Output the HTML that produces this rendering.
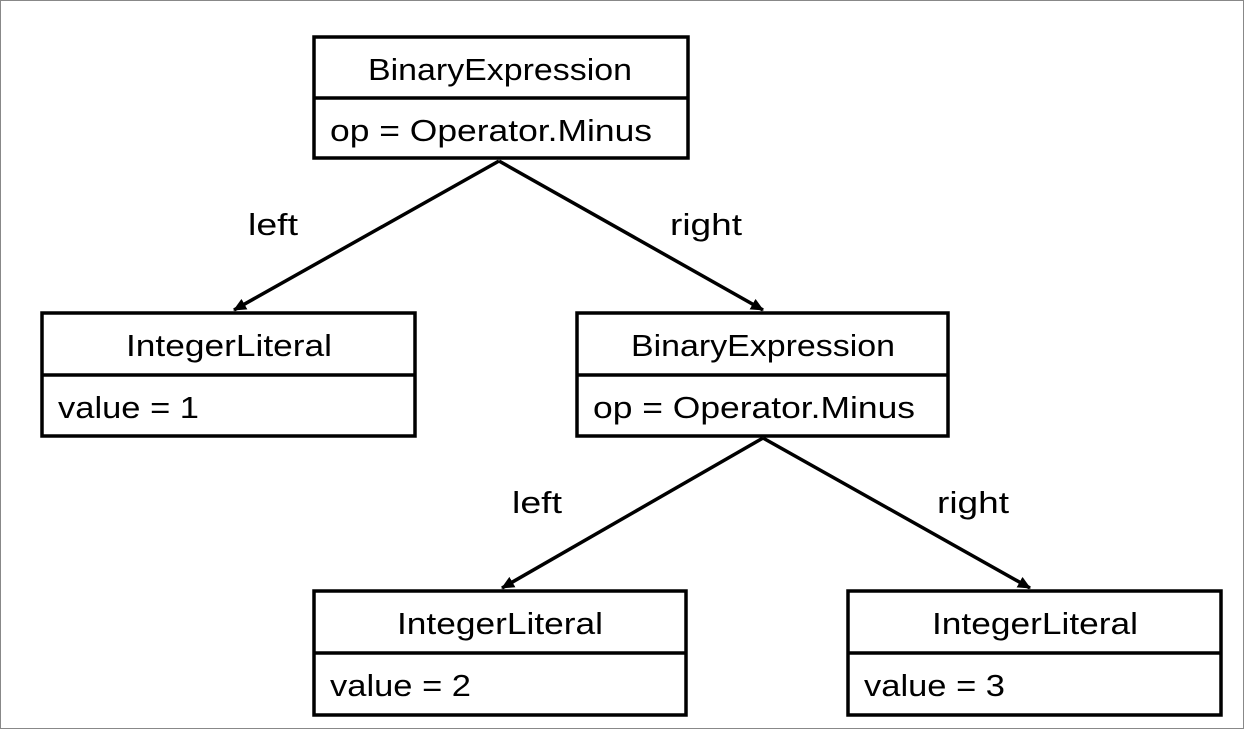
<!DOCTYPE html>
<html><head><meta charset="utf-8"><style>
html,body{margin:0;padding:0;background:#fff;}
svg{display:block;}
text{font-family:"Liberation Sans",sans-serif;font-size:31px;fill:#000;}
</style></head><body>
<svg width="1245" height="730" viewBox="0 0 1245 730" xmlns="http://www.w3.org/2000/svg">
<rect x="0.5" y="0.5" width="1243" height="728" fill="#fff" stroke="#888" stroke-width="1"/>
<defs>
<marker id="a" markerWidth="14" markerHeight="12" refX="12" refY="6" orient="auto" markerUnits="userSpaceOnUse">
<path d="M0,0 L13,6 L0,12 Z" fill="#000"/>
</marker>
</defs>
<g stroke="#000" stroke-width="3.5" fill="none">
<line x1="499" y1="161" x2="234" y2="310" marker-end="url(#a)"/>
<line x1="499" y1="161" x2="763" y2="310" marker-end="url(#a)"/>
<line x1="763" y1="438" x2="502" y2="588" marker-end="url(#a)"/>
<line x1="763" y1="438" x2="1030" y2="588" marker-end="url(#a)"/>
<rect x="314" y="37" width="374" height="121"/><line x1="314" y1="98" x2="688" y2="98"/>
<rect x="42" y="313" width="373" height="123"/><line x1="42" y1="375" x2="415" y2="375"/>
<rect x="577" y="313" width="371" height="123"/><line x1="577" y1="375" x2="948" y2="375"/>
<rect x="314" y="591" width="372" height="124"/><line x1="314" y1="653" x2="686" y2="653"/>
<rect x="848" y="591" width="373" height="124"/><line x1="848" y1="653" x2="1221" y2="653"/>
</g>
<text x="368" y="80" textLength="264" lengthAdjust="spacingAndGlyphs">BinaryExpression</text>
<text x="330" y="141" textLength="322" lengthAdjust="spacingAndGlyphs">op = Operator.Minus</text>
<text x="126" y="356" textLength="206" lengthAdjust="spacingAndGlyphs">IntegerLiteral</text>
<text x="58" y="418" textLength="141" lengthAdjust="spacingAndGlyphs">value = 1</text>
<text x="631" y="356" textLength="264" lengthAdjust="spacingAndGlyphs">BinaryExpression</text>
<text x="593" y="418" textLength="322" lengthAdjust="spacingAndGlyphs">op = Operator.Minus</text>
<text x="397" y="634" textLength="206" lengthAdjust="spacingAndGlyphs">IntegerLiteral</text>
<text x="330" y="696" textLength="141" lengthAdjust="spacingAndGlyphs">value = 2</text>
<text x="932" y="634" textLength="206" lengthAdjust="spacingAndGlyphs">IntegerLiteral</text>
<text x="864" y="696" textLength="141" lengthAdjust="spacingAndGlyphs">value = 3</text>
<text x="248" y="235" textLength="50" lengthAdjust="spacingAndGlyphs">left</text>
<text x="670" y="235" textLength="72" lengthAdjust="spacingAndGlyphs">right</text>
<text x="512" y="513" textLength="50" lengthAdjust="spacingAndGlyphs">left</text>
<text x="937" y="513" textLength="72" lengthAdjust="spacingAndGlyphs">right</text>
</svg>
</body></html>
